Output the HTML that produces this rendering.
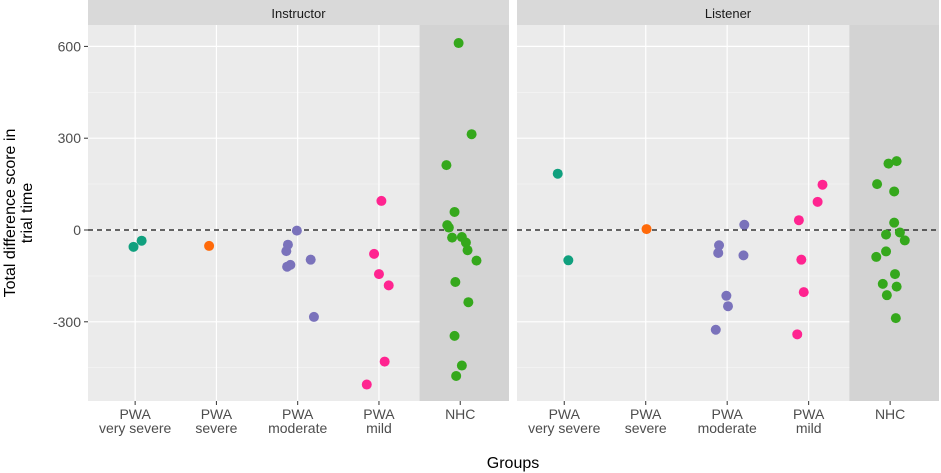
<!DOCTYPE html>
<html><head><meta charset="utf-8"><style>
html,body{margin:0;padding:0;background:#fff;}
svg{display:block;font-family:"Liberation Sans",Arial,sans-serif;}
</style></head><body>
<svg id="chart" width="941" height="473" viewBox="0 0 941 473"></svg>
<script>
const categories = ["PWA|very severe","PWA|severe","PWA|moderate","PWA|mild","NHC"];
const panels = ["Instructor","Listener"];
const yTicks = [600,300,0,-300];
const yMinor = [450,150,-150,-450];
const colors = ["#10a07e","#ff6a0a","#7a72bb","#ff2490","#35a81c"];
// [category index, jitter (category units), value]
const instructorPoints = [
 [0,-0.02,-55],[0,0.08,-35],
 [1,-0.09,-52],
 [2,-0.01,-2],[2,-0.12,-48],[2,-0.14,-69],[2,-0.13,-120],[2,-0.09,-114],[2,0.16,-97],[2,0.20,-284],
 [3,0.03,95],[3,-0.06,-78],[3,0,-144],[3,0.12,-181],[3,0.07,-430],[3,-0.15,-505],
 [4,-0.02,611],[4,0.14,313],[4,-0.17,212],[4,-0.07,59],[4,-0.16,16],[4,-0.14,8],[4,-0.1,-25],[4,0.02,-23],[4,0.07,-41],[4,0.09,-66],[4,0.2,-100],[4,-0.06,-170],[4,0.1,-236],[4,-0.07,-346],[4,0.02,-443],[4,-0.05,-477]
];
const listenerPoints = [
 [0,-0.08,184],[0,0.05,-99],
 [1,0.01,3],
 [2,0.21,17],[2,-0.1,-50],[2,-0.11,-75],[2,0.2,-83],[2,-0.01,-215],[2,0.01,-249],[2,-0.14,-326],
 [3,0.17,148],[3,0.11,92],[3,-0.12,32],[3,-0.09,-97],[3,-0.06,-203],[3,-0.14,-341],
 [4,0.08,225],[4,-0.02,217],[4,-0.16,150],[4,0.05,126],[4,0.05,24],[4,0.12,-8],[4,-0.05,-15],[4,0.18,-34],[4,-0.05,-70],[4,-0.17,-88],[4,0.06,-144],[4,-0.09,-176],[4,0.08,-185],[4,-0.04,-213],[4,0.07,-288]
];
const panelData = [instructorPoints, listenerPoints];

const NS="http://www.w3.org/2000/svg";
const svg=document.getElementById('chart');
function mk(tag,attrs,parent){const e=document.createElementNS(NS,tag);for(const k in attrs)e.setAttribute(k,attrs[k]);(parent||svg).appendChild(e);return e;}
const topY=25, bottomY=401;
function yScale(v){return 230 - v*(91.8/300);}
const panelX=[[88,509],[517,939]];
function xScale(p,ci){const a=panelX[p][0],b=panelX[p][1];const step=(b-a)/5.18;return a+step*0.58+ci*step;}

panels.forEach((name,p)=>{
  const x0=panelX[p][0], x1=panelX[p][1];
  const g=mk('g',{});
  
  
  const strip=mk('rect',{x:x0,y:0,width:x1-x0,height:topY,fill:'#d9d9d9'},g);
  
  
  const st=mk('text',{x:(x0+x1)/2,y:18,'text-anchor':'middle','font-size':'13',fill:'#1a1a1a'},g);
  st.textContent=name;
  
  
  mk('rect',{x:x0,y:topY,width:x1-x0,height:bottomY-topY,fill:'#ebebeb'},g);
  const stepW=(x1-x0)/5.18;
  const shadeX=xScale(p,4)-stepW/2;
  const sh=mk('rect',{x:shadeX,y:topY,width:x1-shadeX,height:bottomY-topY,fill:'#d3d3d3'},g);
  
  
  yMinor.forEach(v=>mk('line',{x1:x0,x2:shadeX,y1:yScale(v),y2:yScale(v),stroke:'#f5f5f5','stroke-width':0.6},g));
  yTicks.forEach(v=>mk('line',{x1:x0,x2:shadeX,y1:yScale(v),y2:yScale(v),stroke:'#fff','stroke-width':1.2},g));
  categories.forEach((c,ci)=>{
    const x=xScale(p,ci);
    if(ci<4) mk('line',{x1:x,x2:x,y1:topY,y2:bottomY,stroke:'#fff','stroke-width':1.2},g);
    mk('line',{x1:x,x2:x,y1:bottomY,y2:bottomY+4,stroke:'#333','stroke-width':1},g);
    const parts=c.split('|');
    parts.forEach((t,i)=>{
      const tx=mk('text',{x:x,y:419+i*14,'text-anchor':'middle','font-size':'14',fill:'#4d4d4d'},g);
      tx.textContent=t;
      
      
    });
  });
  const zl=mk('line',{x1:x0,x2:x1,y1:yScale(0),y2:yScale(0),stroke:'#111','stroke-width':1.3,'stroke-dasharray':'5,4'},g);
  
  
  panelData[p].forEach(d=>{
    const c=mk('circle',{cx:xScale(p,d[0]+d[1]),cy:yScale(d[2]),r:5,fill:colors[d[0]]},g);
    
    
  });
});
yTicks.forEach(v=>{
  mk('line',{x1:84,x2:88,y1:yScale(v),y2:yScale(v),stroke:'#333','stroke-width':1});
  const t=mk('text',{x:81,y:yScale(v)+5,'text-anchor':'end','font-size':'14',fill:'#4d4d4d'});
  t.textContent=v;
  
  
});
const yt=mk('text',{transform:'translate(15,213) rotate(-90)','text-anchor':'middle','font-size':'16',fill:'#000'});
yt.textContent='Total difference score in';


const yt2=mk('text',{transform:'translate(32,213) rotate(-90)','text-anchor':'middle','font-size':'16',fill:'#000'});
yt2.textContent='trial time';


const xt=mk('text',{x:513,y:468,'text-anchor':'middle','font-size':'16',fill:'#000'});
xt.textContent='Groups';


</script>
</body></html>
